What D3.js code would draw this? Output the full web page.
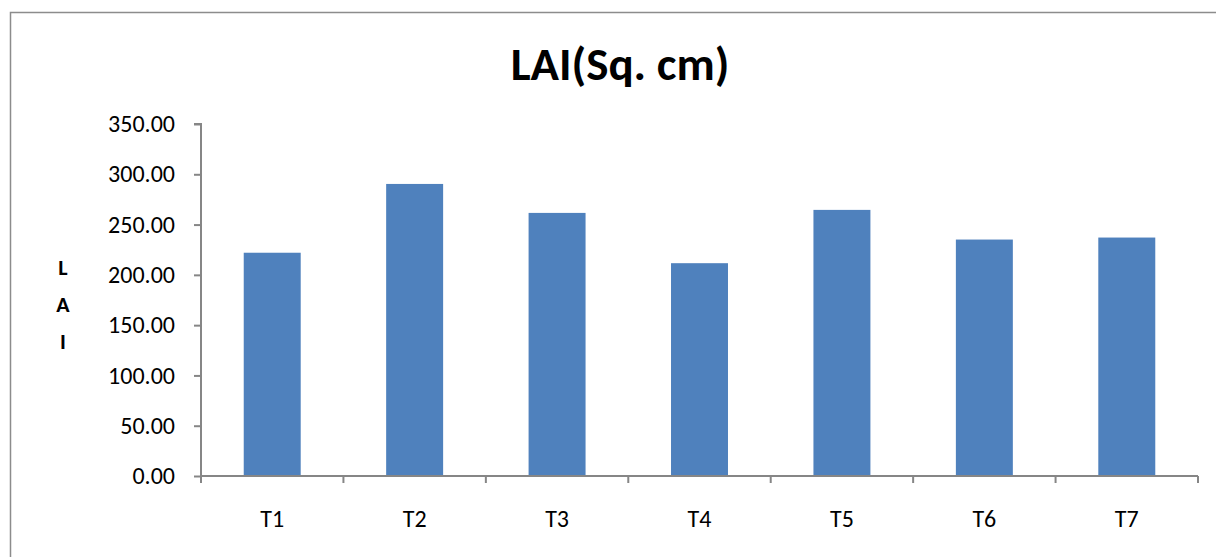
<!DOCTYPE html>
<html>
<head>
<meta charset="utf-8">
<script src="https://cdn.jsdelivr.net/npm/d3@7"></script>
<style>
  html, body { margin: 0; padding: 0; background: #fff; }
  svg { display: block; }
</style>
</head>
<body>
<svg id="chart" width="1216" height="557"></svg>
<script>
// Leaf area index per treatment
const categories = ["T1", "T2", "T3", "T4", "T5", "T6", "T7"];
const laiValues = [222.0, 290.4, 261.6, 211.6, 264.6, 235.1, 237.1];
const yTicks = [0, 50, 100, 150, 200, 250, 300, 350];
const titleText = "LAI(Sq. cm)";
const yLabelLetters = ["L", "A", "I"];

const svg = d3.select("#chart");
const W = 1216, H = 557;
const font = "Carlito, 'Open Sans', 'Liberation Sans', sans-serif";

// chart area frame
svg.append("rect")
  .attr("x", 10.5).attr("y", 12.5)
  .attr("width", W + 20).attr("height", H + 20)
  .attr("fill", "#fff").attr("stroke", "#8c8c8c").attr("stroke-width", 1.5);

const plot = { left: 201, right: 1198, top: 124, bottom: 476 };

const x = d3.scaleBand()
  .domain(categories)
  .range([plot.left, plot.right])
  .paddingInner(0.6)
  .paddingOuter(0.3);

const y = d3.scaleLinear()
  .domain([0, 350])
  .range([plot.bottom, plot.top]);

// bars
svg.append("g").selectAll("rect")
  .data(categories.map((c, i) => ({ c, v: laiValues[i] })))
  .join("rect")
  .attr("x", d => x(d.c))
  .attr("y", d => y(d.v))
  .attr("width", x.bandwidth())
  .attr("height", d => y(0) - y(d.v))
  .attr("fill", "#4F81BD");

// y axis
const yAxis = d3.axisLeft(y)
  .tickValues(yTicks)
  .tickFormat(d3.format(".2f"))
  .tickSize(7)
  .tickPadding(19);
const gy = svg.append("g")
  .attr("transform", `translate(${plot.left},0)`)
  .call(yAxis);
gy.select(".domain").attr("stroke", "#868686").attr("stroke-width", 2)
  .attr("d", `M-7,${plot.top}H0V${plot.bottom}`);
gy.selectAll(".tick line").attr("stroke", "#868686").attr("stroke-width", 2);
gy.selectAll(".tick text")
  .attr("fill", "#000")
  .style("font-family", font)
  .style("font-size", "24px");

// x axis: ticks sit between categories
const edges = d3.range(categories.length + 1).map(i => plot.left + i * (plot.right - plot.left) / categories.length);
const gx = svg.append("g");
gx.append("line")
  .attr("x1", plot.left).attr("x2", plot.right)
  .attr("y1", plot.bottom).attr("y2", plot.bottom)
  .attr("stroke", "#868686").attr("stroke-width", 2);
gx.selectAll("line.tk")
  .data(edges)
  .join("line")
  .attr("class", "tk")
  .attr("x1", d => d).attr("x2", d => d)
  .attr("y1", plot.bottom).attr("y2", plot.bottom + 7)
  .attr("stroke", "#868686").attr("stroke-width", 2);
gx.selectAll("text")
  .data(categories)
  .join("text")
  .attr("x", d => x(d) + x.bandwidth() / 2)
  .attr("y", 527)
  .attr("text-anchor", "middle")
  .style("font-family", font)
  .style("font-size", "24px")
  .attr("fill", "#000")
  .text(d => d);

// title
svg.append("text")
  .attr("x", 620).attr("y", 80)
  .attr("text-anchor", "middle")
  .style("font-family", font)
  .style("font-size", "47px")
  .style("font-weight", "bold")
  .attr("fill", "#000")
  .text(titleText);

// stacked y axis label
svg.append("g").selectAll("text")
  .data(yLabelLetters)
  .join("text")
  .attr("x", 63)
  .attr("y", (d, i) => 275 + i * 37)
  .attr("text-anchor", "middle")
  .style("font-family", font)
  .style("font-size", "22px")
  .style("font-weight", "bold")
  .attr("fill", "#000")
  .text(d => d);
</script>
</body>
</html>
